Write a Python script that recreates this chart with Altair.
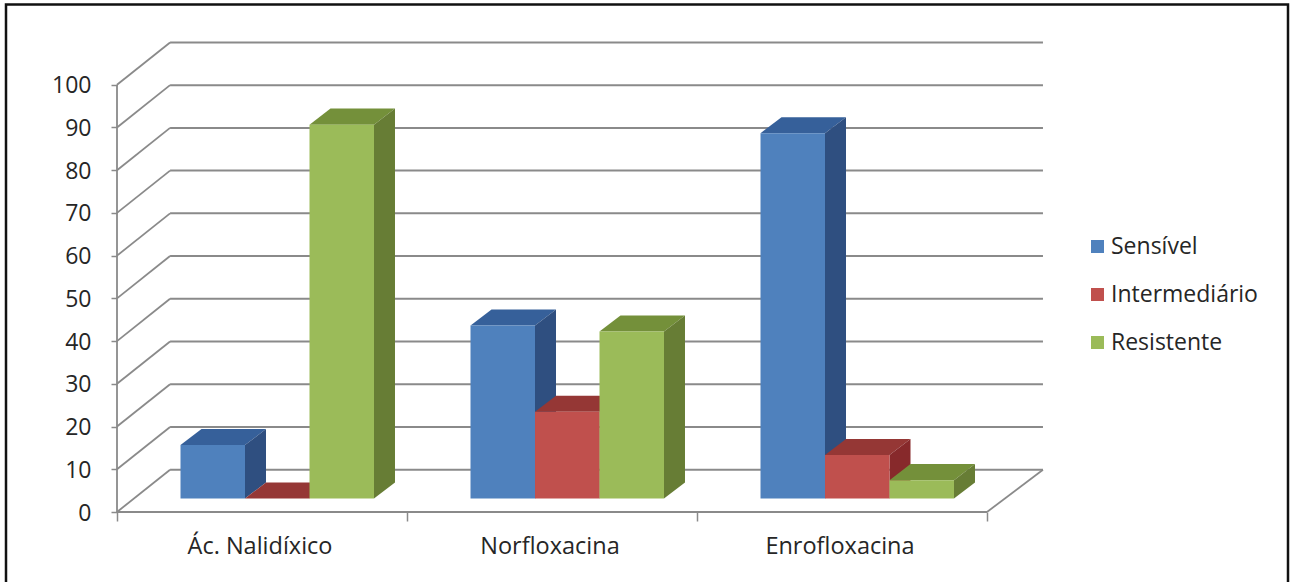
import altair as alt
import pandas as pd

# Resistance percentages per antibiotic
categories = ["Ác. Nalidíxico", "Norfloxacina", "Enrofloxacina"]
series_names = ["Sensível", "Intermediário", "Resistente"]
sensivel = [12.5, 40.5, 85.5]
intermediario = [0.0, 20.3, 10.2]
resistente = [87.5, 39.1, 4.3]
series_values = [sensivel, intermediario, resistente]

front_colors = ["#4F81BD", "#C0504D", "#9BBB59"]
top_colors = ["#36609A", "#953735", "#74903A"]
side_colors = ["#2F4F80", "#87292B", "#677D35"]

y_ticks = list(range(0, 101, 10))
x_ticks = [0, 1, 2, 3]
category_centers = [0.5, 1.5, 2.5]

GRAY = "#8A8A8A"
FONT = "Open Sans"
TEXT = "#262626"

# Oblique projection, all in axis units
WALL_DX, WALL_DY = 0.183, 9.9
BAR_DX, BAR_DY = 0.0724, 3.75
BAR_START, BAR_W, BAR_BASE = 0.219, 0.2224, 3.16
X_END = WALL_DX + 3.01

x_scale = alt.Scale(domain=[0, 3.2], nice=False, zero=False)
y_scale = alt.Scale(domain=[0, 110], nice=False, zero=False)
color_scale = alt.Scale(domain=series_names, range=front_colors)

grid = pd.DataFrame({"v": y_ticks})
grid["x0"] = 0.0
grid["xb"] = WALL_DX
grid["xe"] = X_END
grid["vb"] = grid["v"] + WALL_DY
label_lookup = "{'0.5': '%s', '1.5': '%s', '2.5': '%s'}[toString(datum.value)]" % tuple(categories)

# Outer border of the figure, open at the bottom edge
frame = alt.Chart(pd.DataFrame({"a": [0]})).mark_rect(
    filled=False, stroke="#111111", strokeWidth=2.5, clip=False
).encode(
    x=alt.value(-111), x2=alt.value(1171), y=alt.value(-37.5), y2=alt.value(570)
)

# Wall and floor lines
diagonals = alt.Chart(grid).mark_rule(color=GRAY, strokeWidth=1.8).encode(
    x=alt.X("x0:Q", scale=x_scale,
            axis=alt.Axis(orient="bottom", values=x_ticks, labels=False, domain=False,
                          ticks=True, tickColor=GRAY, tickWidth=1.5, tickSize=9,
                          grid=False, title=None)),
    x2="xb:Q",
    y=alt.Y("v:Q", scale=y_scale,
            axis=alt.Axis(orient="left", values=y_ticks, domain=False, ticks=True, tickColor=GRAY,
                          tickWidth=1.5, tickSize=6, labelPadding=20, labelOffset=1, labelFont=FONT,
                          labelFontSize=23, labelColor=TEXT, grid=False, title=None)),
    y2="vb:Q",
)
back_lines = alt.Chart(grid).mark_rule(color=GRAY, strokeWidth=2).encode(
    x=alt.X("xb:Q", scale=x_scale,
            axis=alt.Axis(orient="bottom", values=category_centers, labelExpr=label_lookup,
                          domain=False, ticks=False, labelPadding=22, labelOffset=-2.5, labelFont=FONT,
                          labelFontSize=23.5, labelColor=TEXT, labelFlush=False, grid=False,
                          title=None)),
    x2="xe:Q",
    y=alt.Y("vb:Q", scale=y_scale, axis=None),
)
y_line = alt.Chart(pd.DataFrame({"x0": [0.0], "lo": [0], "hi": [100]})).mark_rule(
    color=GRAY, strokeWidth=1.8
).encode(x=alt.X("x0:Q", scale=x_scale, axis=None),
         y=alt.Y("lo:Q", scale=y_scale, axis=None), y2="hi:Q")
floor_front = alt.Chart(pd.DataFrame({"a": [0.0], "b": [3.0], "lo": [0.0]})).mark_rule(
    color=GRAY, strokeWidth=2
).encode(x=alt.X("a:Q", scale=x_scale, axis=None), x2="b:Q",
         y=alt.Y("lo:Q", scale=y_scale, axis=None))
floor_right = alt.Chart(pd.DataFrame({"a": [3.0], "b": [X_END], "lo": [0.0], "hi": [WALL_DY]})).mark_rule(
    color=GRAY, strokeWidth=1.8
).encode(x=alt.X("a:Q", scale=x_scale, axis=None), x2="b:Q",
         y=alt.Y("lo:Q", scale=y_scale, axis=None), y2="hi:Q")

layers = [frame, back_lines, diagonals, y_line, floor_front, floor_right]


def face_layer(rows, colour):
    return alt.Chart(pd.DataFrame(rows)).mark_area(color=colour, interpolate="linear").encode(
        x=alt.X("px:Q", scale=x_scale, axis=None),
        y=alt.Y("low:Q", scale=y_scale, axis=None),
        y2="high:Q",
        detail="bar:N",
    )


# Each series draws its top and side faces first, then its front face
for s, name in enumerate(series_names):
    fronts, tops, sides = [], [], []
    for g, value in enumerate(series_values[s]):
        x0 = g + BAR_START + s * BAR_W
        x1 = x0 + BAR_W
        top = BAR_BASE + value
        fronts.append({"x": x0, "x2": x1, "y": BAR_BASE, "y2": top, "serie": name})
        tops += [
            {"bar": g, "px": x0, "low": top, "high": top},
            {"bar": g, "px": x0 + BAR_DX, "low": top, "high": top + BAR_DY},
            {"bar": g, "px": x1, "low": top, "high": top + BAR_DY},
            {"bar": g, "px": x1 + BAR_DX, "low": top + BAR_DY, "high": top + BAR_DY},
        ]
        sides += [
            {"bar": g, "px": x1, "low": BAR_BASE, "high": top},
            {"bar": g, "px": x1 + BAR_DX, "low": BAR_BASE + BAR_DY, "high": top + BAR_DY},
        ]
    layers.append(face_layer(tops, top_colors[s]))
    layers.append(face_layer(sides, side_colors[s]))
    layers.append(
        alt.Chart(pd.DataFrame(fronts)).mark_rect().encode(
            x=alt.X("x:Q", scale=x_scale, axis=None),
            x2="x2:Q",
            y=alt.Y("y:Q", scale=y_scale, axis=None),
            y2="y2:Q",
            color=alt.Color(
                "serie:N", scale=color_scale, sort=series_names, title=None,
                legend=alt.Legend(
                    orient="none", legendX=969, legendY=193, symbolType="square",
                    symbolSize=169, symbolStrokeWidth=0, labelFont=FONT, labelFontSize=23,
                    labelColor=TEXT, labelLimit=300, labelOffset=2, rowPadding=24,
                ),
            ),
        )
    )

chart = alt.layer(*layers).resolve_axis(x="independent", y="independent").properties(
    width=928,
    height=470,
    padding={"left": 117, "top": 42, "right": 247, "bottom": 70},
    autosize=alt.AutoSizeParams(type="none"),
    background="white",
).configure_view(stroke=None)

chart.save("out.html", embed_options={"renderer": "svg", "actions": False})
